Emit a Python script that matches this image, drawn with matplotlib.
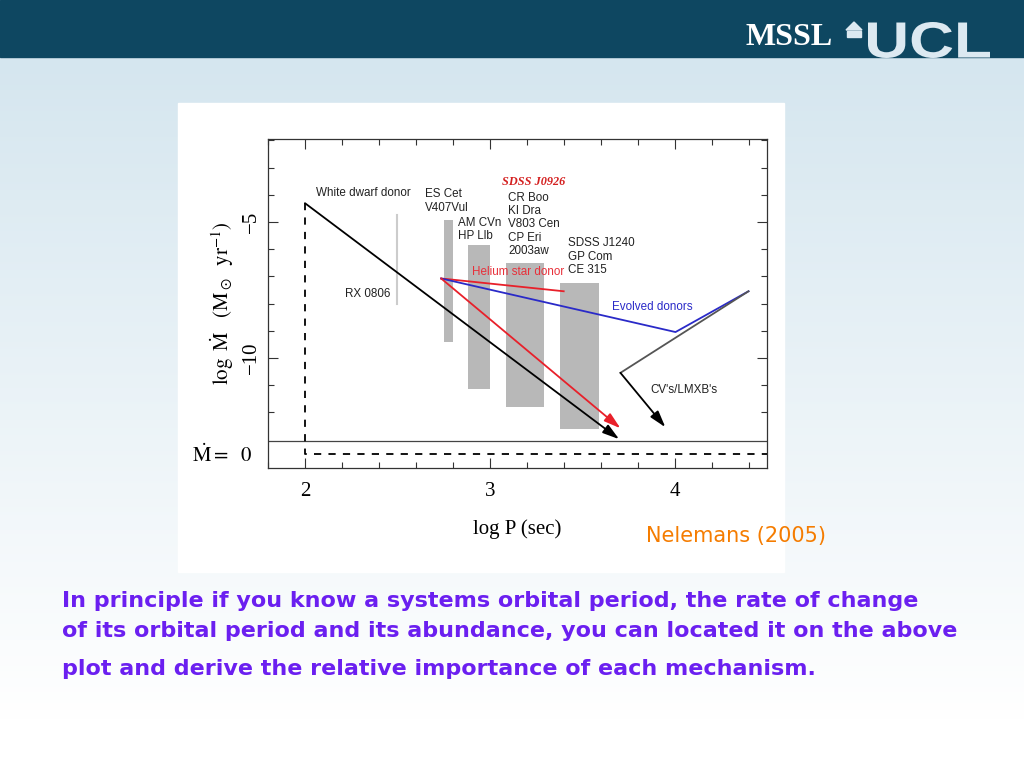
#!/usr/bin/env python3
import numpy as np
import matplotlib
matplotlib.use('Agg')
import matplotlib.pyplot as plt
from matplotlib.patches import Rectangle, FancyArrowPatch, PathPatch, Polygon
from matplotlib.colors import LinearSegmentedColormap
from matplotlib.textpath import TextPath
from matplotlib.font_manager import FontProperties
from matplotlib.transforms import Affine2D, blended_transform_factory

# axis ranges: log P (sec) and log Mdot (Msun / yr)
x_range = (1.8, 4.5)
y_range = (-14.05, -1.95)
mdot_zero_level = -13.55
break_level = -13.05

# observed systems, grey boxes
bar_left = [2.75, 2.88, 3.09, 3.38]
bar_right = [2.80, 3.00, 3.295, 3.59]
bar_low = [-9.42, -11.13, -11.8, -12.63]
bar_high = [-4.93, -5.84, -6.5, -7.26]

# RX 0806 (thin line)
rx0806_x = 2.50
rx0806_y = [-4.75, -8.0]

# evolutionary tracks
wd_start = (2.0, -4.31)
wd_end = (3.70, -12.99)
he_start = (2.737, -7.08)
he_short_end = (3.40, -7.55)
he_arrow_end = (3.707, -12.59)
evolved_x = [2.737, 4.005, 4.40]
evolved_y = [-7.08, -9.05, -7.55]
cv_x = [4.40, 3.707]
cv_y = [-7.55, -10.55]
cv_arrow_end = (3.95, -12.55)

# labels: text, x, y (top of text block)
labels = [
    ('White dwarf donor', 2.06, -3.71),
    ('ES Cet\nV407Vul', 2.65, -3.77),
    ('AM CVn\nHP Llb', 2.83, -4.81),
    ('CR Boo\nKI Dra\nV803 Cen\nCP Eri\n2003aw', 3.10, -3.89),
    ('SDSS J1240\nGP Com\nCE 315', 3.425, -5.57),
    ('RX 0806', 2.215, -7.42),
    ('CV\'s/LMXB\'s', 3.87, -10.96),
]

caption_lines = [
    'In principle if you know a systems orbital period, the rate of change',
    'of its orbital period and its abundance, you can located it on the above',
    'plot and derive the relative importance of each mechanism.',
]
caption_y = [601, 631, 669]


def arrow(ax, start, end, color):
    a = FancyArrowPatch(start, end, arrowstyle='-|>,head_length=1.0,head_width=0.3',
                        mutation_scale=10, color=color, lw=1.3,
                        shrinkA=0, shrinkB=0, zorder=4)
    ax.add_patch(a)


def main():
    plt.rcParams['mathtext.fontset'] = 'stix'
    fig = plt.figure(figsize=(10.24, 7.68), dpi=100)

    # slide background in pixel coordinates
    bg = fig.add_axes([0, 0, 1, 1])
    bg.set_xlim(0, 1024)
    bg.set_ylim(768, 0)
    bg.axis('off')
    cmap = LinearSegmentedColormap.from_list('slide', ['#d5e6ef', '#ffffff'])
    grad = np.linspace(0, 1, 256).reshape(-1, 1)
    bg.imshow(grad, cmap=cmap, aspect='auto', extent=(0, 1024, 720, 57), zorder=0)
    bg.add_patch(Rectangle((0, 720), 1024, 48, color='white', zorder=0))
    bg.add_patch(Rectangle((0, 0), 1024, 57, color='#0e4761', zorder=1))
    bg.add_patch(Rectangle((178, 103), 606, 469, color='white', zorder=1))

    bg.text(745, 45, 'MSSL', color='white', fontsize=23, fontweight='bold',
            family='Liberation Serif', va='baseline', zorder=2)
    bg.add_patch(Polygon([(846, 30), (854, 22), (862, 30)], color='#dce9f1', zorder=2))
    bg.add_patch(Rectangle((847, 31), 14, 6, color='#dce9f1', zorder=2))
    tp = TextPath((0, 0), 'UCL', size=1,
                  prop=FontProperties(family='Liberation Sans', weight='bold'))
    bb = tp.get_extents()
    tr = Affine2D().translate(-bb.x0, -bb.y0).scale(122 / bb.width, -36 / bb.height).translate(868, 58)
    bg.add_patch(PathPatch(tr.transform_path(tp), fc='#dce9f1', ec='none', zorder=2))

    bg.text(826, 536, 'Nelemans (2005)', color='#f57c00', fontsize=15,
            family='DejaVu Sans', ha='right', va='center', zorder=2)
    for line, y in zip(caption_lines, caption_y):
        bg.text(62, y, line, color='#6b1ff0', fontsize=16, fontweight='bold',
                family='DejaVu Sans', va='center', zorder=2)

    # the chart
    ax = fig.add_axes([268 / 1024, (768 - 468) / 768, 499 / 1024, 329 / 768])
    ax.set_xlim(*x_range)
    ax.set_ylim(*y_range)
    for s in ax.spines.values():
        s.set_linewidth(0.9)
        s.set_color('#333333')

    for l, r, lo, hi in zip(bar_left, bar_right, bar_low, bar_high):
        ax.add_patch(Rectangle((l, lo), r - l, hi - lo, color='#b8b8b8', lw=0, zorder=1))
    ax.plot([rx0806_x, rx0806_x], rx0806_y, color='#cccccc', lw=1.5, zorder=1)

    # white dwarf donor
    ax.plot([wd_start[0], wd_start[0], x_range[1]], [wd_start[1], mdot_zero_level, mdot_zero_level],
            color='black', lw=1.3, ls=(0, (4, 4)), zorder=3)
    arrow(ax, wd_start, wd_end, 'black')

    # helium star donor
    ax.plot([he_start[0], he_short_end[0]], [he_start[1], he_short_end[1]], color='#e8202a', lw=1.3, zorder=3)
    arrow(ax, he_start, he_arrow_end, '#e8202a')

    # evolved donors and CVs
    ax.plot(evolved_x, evolved_y, color='#2a2ac8', lw=1.3, zorder=3)
    ax.plot(cv_x, cv_y, color='#555555', lw=1.3, zorder=3)
    arrow(ax, (cv_x[-1], cv_y[-1]), cv_arrow_end, 'black')

    ax.axhline(break_level, color='#444444', lw=0.9, zorder=2)

    for txt, x, y in labels:
        ax.text(x, y, txt, fontsize=8.4, family='Liberation Sans', color='#222222',
                va='top', ha='left', linespacing=1.15, zorder=5)
    ax.text(3.068, -3.53, 'SDSS J0926', fontsize=8.8, family='Liberation Serif',
            fontweight='bold', fontstyle='italic', color='#d42020', va='center', zorder=5)
    ax.text(2.905, -6.84, 'Helium star donor', fontsize=8.4, family='Liberation Sans',
            color='#e8303a', va='center', zorder=5)
    ax.text(3.664, -8.13, 'Evolved donors', fontsize=8.4, family='Liberation Sans',
            color='#2a2ac8', va='center', zorder=5)

    # ticks
    ax.set_xticks([2, 3, 4])
    ax.set_xticks(np.arange(1.8, 4.5, 0.2), minor=True)
    ax.set_yticks([-10, -5])
    ax.set_yticklabels(['\u221210', '\u22125'])
    ax.set_yticks(np.arange(-12, -1.5, 1), minor=True)
    ax.tick_params(which='both', direction='in', top=True, right=True, color='#333333', width=0.8)
    ax.tick_params(which='major', length=7, labelsize=15)
    ax.tick_params(axis='x', pad=10)
    ax.tick_params(axis='y', pad=5, labelrotation=90)
    ax.tick_params(which='minor', length=4)
    for lab in ax.get_xticklabels() + ax.get_yticklabels():
        lab.set_family('Liberation Serif')
    for lab in ax.get_yticklabels():
        lab.set_va('center')

    ax.set_xlabel('log P (sec)', family='Liberation Serif', fontsize=15, labelpad=13)
    ax.set_ylabel(r'$\log\ \dot{\rm M}\ \ \ ({\rm M}_\odot\ \ {\rm yr}^{-1})$', fontsize=15, labelpad=4)
    trans = blended_transform_factory(ax.transAxes, ax.transData)
    ax.text(-0.03, mdot_zero_level, r'$\dot{\rm M} =\ \ 0$', transform=trans,
            ha='right', va='center', fontsize=15)

    fig.savefig('out.png', dpi=100)


if __name__ == '__main__':
    main()
